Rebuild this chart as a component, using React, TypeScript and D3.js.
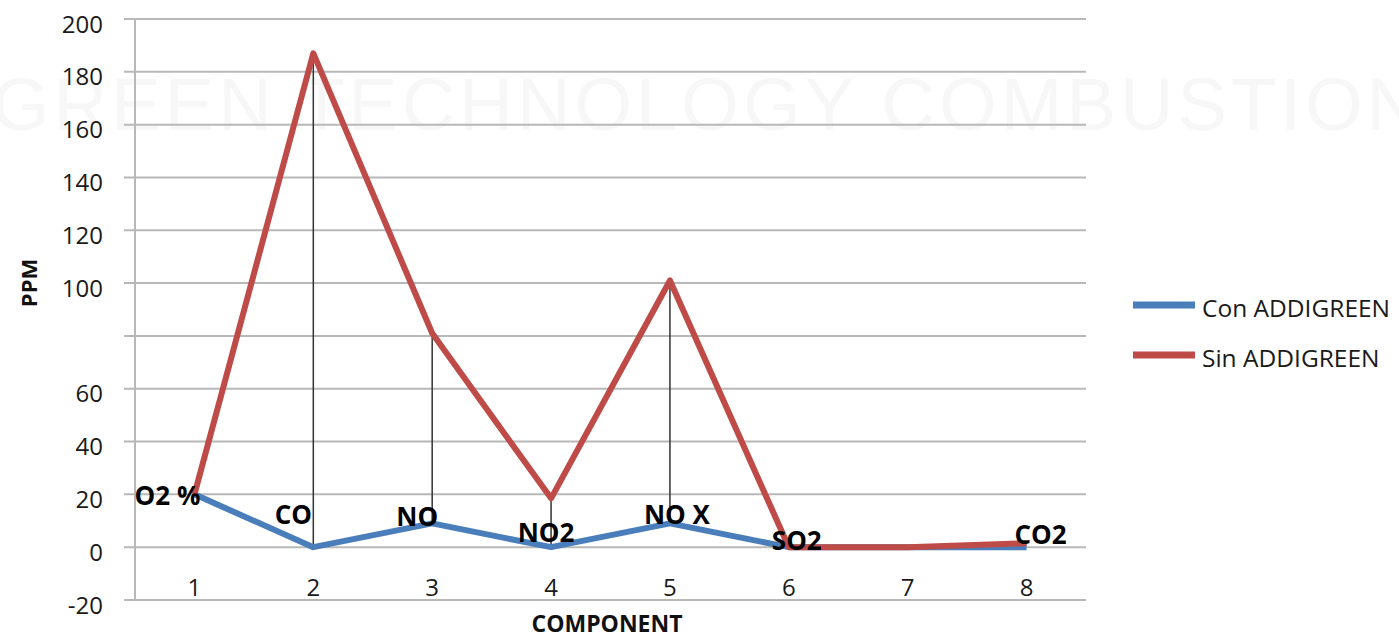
import React from "react";
import * as d3 from "d3";

const categories = ["1", "2", "3", "4", "5", "6", "7", "8"];
const conAddigreen = [20, 0, 9, 0, 9, 0, 0, 0];
const sinAddigreen = [20, 187, 81, 18.5, 101, 0, 0, 1.5];
const pointLabels = ["O2 %", "CO", "NO", "NO2", "NO X", "SO2", "", "CO2"];
const yTicks = [-20, 0, 20, 40, 60, 80, 100, 120, 140, 160, 180, 200];
const yTickLabels = ["-20", "0", "20", "40", "60", "", "100", "120", "140", "160", "180", "200"];
const seriesNames = ["Con ADDIGREEN", "Sin ADDIGREEN"];

// layout-only nudges for the point labels (px, relative to the blue point)
const labelNudge: [number, number][] = [
  [-27, 1], [-20, -33], [-15, -7], [-5, -15], [7, -9], [8, -7], [0, 0], [14, -13],
];

const W = 1399;
const H = 638;
const left = 135, right = 1086, top = 19, bottom = 600;
const BLUE = "#4A7EBB";
const RED = "#BE4B48";
const GRID = "#b8b8b8";
const FONT = "'Open Sans', 'Liberation Sans', sans-serif";

export default function App() {
  const x = d3.scaleBand<string>().domain(categories).range([left, right]).padding(0);
  const cx = (c: string) => (x(c) as number) + x.bandwidth() / 2;
  const y = d3.scaleLinear().domain([-20, 200]).range([bottom, top]);

  const line = d3
    .line<number>()
    .x((_, i) => cx(categories[i]))
    .y((d) => y(d));

  return (
    <svg
      width={W}
      height={H}
      style={{ display: "block", background: "#fff", position: "absolute", left: 0, top: 0 }}
    >
      {/* watermark */}
      <text
        x={-8}
        y={130}
        fontFamily="'Liberation Sans Narrow', 'Liberation Sans', Arial, sans-serif"
        fontSize={74}
        fill="#f7f7f7"
        textLength={1428}
        lengthAdjust="spacing"
      >
        GREEN TECHNOLOGY COMBUSTION
      </text>

      {/* gridlines */}
      {yTicks.map((t) => (
        <line key={t} x1={124} x2={right} y1={y(t)} y2={y(t)} stroke={GRID} strokeWidth={2} />
      ))}
      <line x1={left} x2={left} y1={top} y2={bottom} stroke={GRID} strokeWidth={2} />

      {/* y tick labels */}
      {yTicks.map((t, i) => (
        <text
          key={"l" + t}
          x={103}
          y={y(t) + 4}
          textAnchor="end"
          dominantBaseline="central"
          fontFamily={FONT}
          fontSize={24}
          fill="#1a1a1a"
        >
          {yTickLabels[i]}
        </text>
      ))}

      {/* x tick labels */}
      {categories.map((c) => (
        <text
          key={"x" + c}
          x={cx(c)}
          y={586}
          textAnchor="middle"
          dominantBaseline="central"
          fontFamily={FONT}
          fontSize={24}
          fill="#1a1a1a"
        >
          {c}
        </text>
      ))}

      {/* axis titles */}
      <text x={607} y={632} textAnchor="middle" fontFamily={FONT} fontWeight="bold" fontSize={23} fill="#111">
        COMPONENT
      </text>
      <text
        transform={`translate(37,283) rotate(-90)`}
        textAnchor="middle"
        fontFamily={FONT}
        fontWeight="bold"
        fontSize={22}
        fill="#111"
      >
        PPM
      </text>

      {/* high-low lines */}
      {categories.map((c, i) => {
        const hi = Math.max(conAddigreen[i], sinAddigreen[i]);
        const lo = Math.min(conAddigreen[i], sinAddigreen[i]);
        if (hi - lo < 3) return null;
        return <line key={"hl" + c} x1={cx(c)} x2={cx(c)} y1={y(hi)} y2={y(lo)} stroke="#333" strokeWidth={1.5} />;
      })}

      {/* series */}
      <path d={line(conAddigreen) || ""} fill="none" stroke={BLUE} strokeWidth={6} strokeLinejoin="round" />
      <path d={line(sinAddigreen) || ""} fill="none" stroke={RED} strokeWidth={6} strokeLinejoin="round" />

      {/* point labels */}
      {categories.map((c, i) =>
        pointLabels[i] ? (
          <text
            key={"p" + c}
            x={cx(c) + labelNudge[i][0]}
            y={y(conAddigreen[i]) + labelNudge[i][1]}
            textAnchor="middle"
            dominantBaseline="central"
            fontFamily={FONT}
            fontWeight="bold"
            fontSize={26}
            fill="#000"
          >
            {pointLabels[i]}
          </text>
        ) : null
      )}

      {/* legend */}
      {seriesNames.map((n, i) => (
        <g key={n} transform={`translate(0,${305 + i * 50})`}>
          <line x1={1133} x2={1195} y1={0} y2={0} stroke={i === 0 ? BLUE : RED} strokeWidth={7} />
          <text x={1202} y={2} dominantBaseline="central" fontFamily={FONT} fontSize={24.5} fill="#1a1a1a">
            {n}
          </text>
        </g>
      ))}
    </svg>
  );
}
